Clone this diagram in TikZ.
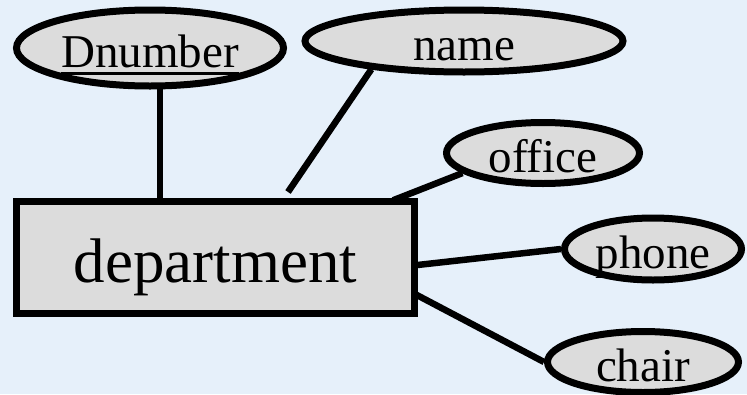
\documentclass[tikz,border=0pt]{standalone}
\usepackage{fontspec}
\setmainfont{Liberation Serif}
\usetikzlibrary{shapes.geometric,calc}
\definecolor{canvas}{HTML}{E6F0FA}
\definecolor{boxgray}{HTML}{DCDCDC}
\pgfdeclarelayer{back}
\pgfsetlayers{back,main}
% key attribute: text with a heavy underline
\newcommand\keyline[1]{\vtop{\hbox{#1}\kern4.5pt\hrule height 3pt}}
\begin{document}
\begin{tikzpicture}[x=1pt,y=-1pt,
  attr/.style={ellipse,draw,line width=7pt,fill=boxgray,inner sep=0pt,
    font=\fontsize{47}{50}\selectfont,text height=38pt,text depth=0pt},
  entity/.style={rectangle,draw,line width=7pt,fill=boxgray,inner sep=0pt,
    minimum width=398pt,minimum height=112pt,
    font=\fontsize{63}{66}\selectfont,text height=49pt,text depth=0pt},
  link/.style={line width=6.5pt}]
\useasboundingbox (0,0) rectangle (747,394);

% entity
\node[entity] (dept) at (215.5,257.5) {department};

% attributes
\node[attr,minimum width=267pt,minimum height=76pt] (dn) at (150,48) {\keyline{Dnumber}};
\node[attr,minimum width=318pt,minimum height=62pt] (name) at (464,41) {name};
\node[attr,minimum width=193pt,minimum height=61pt] (office) at (543,153) {office};
\node[attr,minimum width=177pt,minimum height=62pt] (phone) at (653,249) {phone};
\node[attr,minimum width=191pt,minimum height=61pt] (chair) at (643,362) {chair};

% connectors, kept behind the shapes
\coordinate (dnFoot) at ($(dn.south)+(10,-4)$);
\coordinate (dnEnd) at (dnFoot |- dept.north);
\coordinate (nameEnd) at ($(dept.north)+(72.5,-6)$);
\coordinate (officeEnd) at ($(dept.north east)+(-25,2.3)$);
\coordinate (phoneEnd) at ($(dept.east)+(-5,8)$);
\coordinate (chairEnd) at ($(dept.east)+(-5,35.5)$);
\begin{pgfonlayer}{back}
  \fill[canvas] (0,0) rectangle (747,394);
  \draw[link] (dnFoot) -- (dnEnd);
  \draw[link] (name.197) -- (nameEnd);
  \draw[link] (office.194) -- (officeEnd);
  \draw[link] (phone.180) -- (phoneEnd);
  \draw[link] (chair.west) -- (chairEnd);
\end{pgfonlayer}
\end{tikzpicture}
\end{document}
